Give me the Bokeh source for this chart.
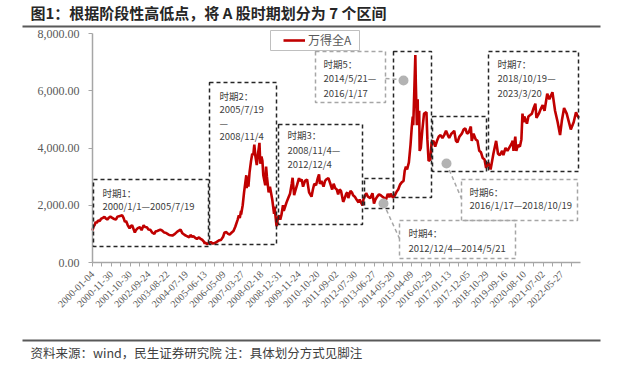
import math
import numpy as np
from bokeh.plotting import figure
from bokeh.models import (Range1d, FixedTicker, NumeralTickFormatter, BoxAnnotation,
                          Label, Arrow, Legend, LegendItem)
from bokeh.embed import file_html
from bokeh.resources import INLINE

title_text = "图1：根据阶段性高低点，将 A 股时期划分为 7 个区间"
source_text = "资料来源：wind，民生证券研究院 注：具体划分方式见脚注"
series_name = "万得全A"

# category-axis labels (one every 220 trading days)
tick_dates = ["2000-01-04", "2000-11-30", "2001-10-30", "2002-09-24", "2003-08-22",
              "2004-07-19", "2005-06-13", "2006-05-09", "2007-03-27", "2008-02-18",
              "2008-12-31", "2009-11-24", "2010-10-20", "2011-09-02", "2012-07-30",
              "2013-06-27", "2014-05-20", "2015-04-09", "2016-02-29", "2017-01-13",
              "2017-12-05", "2018-10-29", "2019-09-16", "2020-08-10", "2021-07-02",
              "2022-05-27"]
y_ticks = [0, 2000, 4000, 6000, 8000]

dates = [
 "2000-01-04","2000-01-20","2000-02-15","2000-03-01","2000-03-20","2000-04-10","2000-05-10","2000-06-01",
 "2000-07-05","2000-08-01","2000-08-25","2000-09-20","2000-10-15","2000-11-15","2000-12-10","2001-01-10",
 "2001-02-20","2001-03-20","2001-04-20","2001-06-13","2001-07-10","2001-07-30","2001-08-20","2001-09-20",
 "2001-10-22","2001-11-15","2001-12-05","2002-01-22","2002-02-10","2002-03-15","2002-04-20","2002-05-20",
 "2002-06-25","2002-07-20","2002-08-20","2002-09-20","2002-10-20","2002-11-25","2002-12-31","2003-01-20",
 "2003-02-20","2003-04-15","2003-05-20","2003-06-20","2003-07-20","2003-08-20","2003-09-20","2003-11-15",
 "2003-12-30","2004-02-10","2004-04-07","2004-05-10","2004-06-20","2004-07-19","2004-08-20","2004-09-10",
 "2004-09-28","2004-10-28","2004-11-20","2004-12-30","2005-01-20","2005-02-25","2005-03-20","2005-04-20",
 "2005-05-25","2005-06-06","2005-06-13","2005-07-19","2005-08-20","2005-09-20","2005-10-25","2005-12-01",
 "2006-01-10","2006-02-20","2006-03-20","2006-04-25","2006-05-20","2006-06-20","2006-07-20","2006-08-15",
 "2006-09-20","2006-10-20","2006-11-20","2006-12-31","2007-01-20","2007-02-05","2007-02-26","2007-02-28",
 "2007-03-27","2007-04-20","2007-05-29","2007-06-05","2007-06-20","2007-07-05","2007-07-25","2007-08-20",
 "2007-09-10","2007-09-28","2007-10-16","2007-11-05","2007-11-28","2007-12-20","2008-01-14","2008-01-28",
 "2008-02-18","2008-03-05","2008-03-20","2008-04-22","2008-05-06","2008-05-20","2008-06-18","2008-07-10",
 "2008-08-18","2008-09-18","2008-09-26","2008-10-28","2008-11-04","2008-11-20","2008-12-10","2008-12-31",
 "2009-01-20","2009-02-17","2009-03-03","2009-04-20","2009-05-20","2009-06-20","2009-07-20","2009-08-04",
 "2009-08-31","2009-09-20","2009-10-20","2009-11-24","2009-12-10","2010-01-10","2010-02-03","2010-03-10",
 "2010-04-15","2010-05-20","2010-07-02","2010-07-26","2010-08-20","2010-09-20","2010-10-20","2010-11-10",
 "2010-11-25","2010-12-20","2011-01-25","2011-02-20","2011-03-10","2011-04-18","2011-05-20","2011-06-20",
 "2011-07-15","2011-08-10","2011-09-05","2011-09-30","2011-10-25","2011-11-20","2011-12-28","2012-01-10",
 "2012-02-20","2012-03-10","2012-03-28","2012-05-05","2012-05-30","2012-06-20","2012-07-20","2012-08-20",
 "2012-09-25","2012-10-15","2012-11-20","2012-12-04","2012-12-20","2013-01-20","2013-02-06","2013-03-10",
 "2013-04-20","2013-05-29","2013-06-25","2013-07-20","2013-08-20","2013-09-20","2013-10-20","2013-11-20",
 "2013-12-20","2014-01-20","2014-02-20","2014-03-20","2014-04-10","2014-05-21","2014-06-20","2014-07-25",
 "2014-08-20","2014-09-20","2014-10-20","2014-11-20","2014-12-10","2014-12-31","2015-01-20","2015-02-20",
 "2015-03-20","2015-04-10","2015-04-28","2015-05-07","2015-05-28","2015-06-12","2015-06-20","2015-07-08",
 "2015-07-23","2015-07-27","2015-08-18","2015-08-26","2015-09-15","2015-10-10","2015-11-10","2015-12-22",
 "2016-01-07","2016-01-28","2016-02-29","2016-03-20","2016-04-20","2016-05-20","2016-06-20","2016-07-20",
 "2016-08-20","2016-09-20","2016-10-20","2016-11-20","2016-12-20","2017-01-13","2017-02-20","2017-03-20",
 "2017-04-10","2017-05-10","2017-06-05","2017-07-10","2017-08-20","2017-09-20","2017-10-20","2017-11-20",
 "2017-12-20","2018-01-24","2018-02-09","2018-03-12","2018-04-20","2018-05-20","2018-06-20","2018-07-20",
 "2018-08-20","2018-09-20","2018-10-18","2018-11-20","2018-12-20","2019-01-03","2019-02-20","2019-04-08",
 "2019-05-10","2019-06-10","2019-07-20","2019-08-10","2019-09-16","2019-10-20","2019-12-31","2020-01-20",
 "2020-02-03","2020-03-05","2020-03-23","2020-04-20","2020-05-25","2020-06-20","2020-07-09","2020-07-27",
 "2020-08-10","2020-09-25","2020-10-20","2020-11-20","2020-12-20","2021-01-20","2021-02-18","2021-03-09",
 "2021-04-20","2021-05-20","2021-06-25","2021-07-28","2021-09-13","2021-10-20","2021-12-13","2022-01-28",
 "2022-03-15","2022-04-26","2022-05-27","2022-07-05","2022-08-20","2022-10-31","2022-12-20","2023-01-30",
 "2023-02-20","2023-03-20"]

values = [
 1120,1250,1330,1420,1380,1470,1450,1520,
 1560,1600,1540,1500,1560,1600,1570,1530,
 1500,1600,1620,1650,1540,1420,1450,1300,
 1190,1280,1300,1050,1130,1200,1230,1130,
 1300,1240,1230,1150,1140,1040,1000,1080,
 1100,1150,1110,1050,1040,1000,960,940,
 1000,1080,1150,1020,960,930,900,880,
 960,900,920,850,820,880,830,800,
 720,650,700,640,700,710,660,680,
 730,780,790,900,1050,1060,1000,980,
 1050,1100,1250,1500,1650,1550,1800,1680,
 2000,2450,3050,2600,3000,2650,3150,3550,
 3800,3750,4120,3700,3400,3800,4180,3450,
 3700,3550,3050,2700,3350,3000,2450,2650,
 2200,1700,1950,1300,1270,1550,1650,1500,
 1650,2000,1800,2100,2250,2400,2750,2960,
 2350,2500,2700,2950,2850,2900,2650,2850,
 2900,2450,2300,2550,2750,2700,2950,3080,
 2750,2850,2650,2850,2900,2950,2750,2550,
 2750,2600,2550,2380,2550,2500,2120,2170,
 2400,2450,2250,2500,2450,2350,2300,2200,
 2100,2200,2050,1990,2200,2350,2420,2300,
 2250,2420,2060,2200,2300,2380,2350,2300,
 2250,2200,2400,2280,2400,2270,2330,2480,
 2550,2720,2800,2850,3200,3350,3250,3500,
 4100,4700,5100,4800,6200,7250,6300,4800,
 5700,5000,5300,3900,4000,4600,5200,5250,
 4300,3550,3600,4200,4250,4050,4250,4400,
 4450,4350,4450,4600,4450,4350,4500,4550,
 4600,4250,4200,4400,4500,4650,4680,4500,
 4550,4750,4250,4500,4300,4250,3900,3850,
 3650,3600,3300,3500,3350,3250,3800,4250,
 3800,3750,3900,3750,4000,3900,4150,4250,
 3900,4400,3900,4100,4050,4300,5200,4900,
 5100,4850,5100,5150,5200,5400,5550,5050,
 5200,5350,5500,5300,5900,5700,5950,5300,
 4900,4450,4950,5400,5200,4650,4900,5250,
 5150,5050]

TICK_STEP = 220
tick_ord = np.array(tick_dates, dtype="datetime64[D]").astype(float)
tick_pos = np.arange(len(tick_dates)) * TICK_STEP

def date_to_idx(ds):
    o = np.array(ds, dtype="datetime64[D]").astype(float)
    idx = np.interp(o, tick_ord, tick_pos)
    slope = TICK_STEP / (tick_ord[-1] - tick_ord[-2])
    return np.where(o > tick_ord[-1], tick_pos[-1] + (o - tick_ord[-1]) * slope, idx)

x = date_to_idx(dates)
XR_END = float(x[-1]) + 20
Y_MAX = y_ticks[-1]

W, H = 624, 364
# plot-area geometry on the page (px): the frame covers the whole canvas, the axes
# are pinned at value 0 so that every annotation can be drawn anywhere on it.
FL, FR, FT, FB = 92, 580, 33, 262
def fx(px):
    return (px - FL) / (FR - FL) * XR_END
def fy(py):
    return (FB - py) / (FB - FT) * Y_MAX

p = figure(width=W, height=H, output_backend="svg", toolbar_location=None,
           x_range=Range1d(fx(0), fx(W)), y_range=Range1d(fy(H), fy(0)),
           min_border=0, min_border_left=0, min_border_right=0,
           min_border_top=0, min_border_bottom=0)
p.outline_line_color = None
p.xgrid.visible = False
p.ygrid.visible = False
p.background_fill_color = "white"
p.border_fill_color = "white"

AX = "#A6A6A6"
LBL = "#595959"
xa = p.xaxis[0]
xa.fixed_location = 0
xa.bounds = (0, XR_END)
xa.ticker = FixedTicker(ticks=list(range(0, int(XR_END) + 1, TICK_STEP // 2)), minor_ticks=[])
xa.major_label_overrides = {t: (tick_dates[t // TICK_STEP] if t % TICK_STEP == 0 and t // TICK_STEP < len(tick_dates) else "")
                            for t in range(0, int(XR_END) + 1, TICK_STEP // 2)}
xa.major_label_orientation = math.pi / 4
xa.major_label_text_font = "Liberation Serif"
xa.major_label_text_font_size = "10px"
xa.major_label_text_color = LBL
xa.axis_line_color = AX
xa.axis_line_width = 1.5
xa.major_tick_line_color = AX
xa.major_tick_in = 0
xa.major_tick_out = 4
xa.major_label_standoff = 6

ya = p.yaxis[0]
ya.fixed_location = 0
ya.bounds = (0, Y_MAX)
ya.ticker = FixedTicker(ticks=y_ticks, minor_ticks=[])
ya.formatter = NumeralTickFormatter(format="0,0.00")
ya.major_label_text_font = "Liberation Serif"
ya.major_label_text_font_size = "12px"
ya.major_label_text_color = LBL
ya.axis_line_color = AX
ya.axis_line_width = 1.5
ya.major_tick_line_color = AX
ya.major_tick_in = 0
ya.major_tick_out = 4
ya.major_label_standoff = 9

line = p.line(x, values, line_color="#C00000", line_width=2.6)

CJK = "Noto Sans CJK SC"
TXT = "#404040"

def pbox(l, r, t, b, **kw):
    return BoxAnnotation(left=fx(l), right=fx(r), top=fy(t), bottom=fy(b), **kw)

# black dashed period boxes (page px: left, right, top, bottom)
period_boxes = [(93, 208, 179, 246), (209, 276, 82, 244), (278, 362, 124, 224),
                (364, 393, 178, 208), (393, 431, 51, 197), (432, 486, 116, 171),
                (488, 578, 51, 171)]
for l, r, t, b in period_boxes:
    p.add_layout(pbox(l, r, t, b, fill_alpha=0, line_color="#262626", line_alpha=1,
                      line_width=1.5, line_dash="4 3"))

# gray dashed callout boxes
GR = "#A6A6A6"
callout_boxes = [(315, 385, 51, 102), (399, 515, 220, 258), (461, 577, 179, 220)]
for l, r, t, b in callout_boxes:
    p.add_layout(pbox(l, r, t, b, fill_alpha=0, line_color=GR, line_alpha=1,
                      line_width=1.5, line_dash="4 3"))
leaders = [((385, 78), (399, 79)), ((383, 203), (399, 238)), ((446, 163), (461, 198))]
for (x0, y0), (x1, y1) in leaders:
    p.add_layout(Arrow(end=None, x_start=fx(x0), y_start=fy(y0), x_end=fx(x1), y_end=fy(y1),
                       line_color=GR, line_width=1.5, line_dash="4 3"))
for cx, cy in [(403, 80), (383, 203), (446, 163)]:
    p.add_layout(pbox(cx - 5, cx + 5, cy - 5, cy + 5, border_radius=5,
                      fill_color="#B3B3B3", fill_alpha=1, line_alpha=0))

box_texts = [
    ("时期1：", 102, 192), ("2000/1/1—2005/7/19", 102, 205),
    ("时期2：", 219, 95), ("2005/7/19", 219, 108), ("—", 219, 122), ("2008/11/4", 219, 135),
    ("时期3：", 287, 134), ("2008/11/4—", 287, 149), ("2012/12/4", 287, 163),
    ("时期5：", 323, 63), ("2014/5/21—", 323, 77), ("2016/1/17", 323, 92),
    ("时期7：", 497, 63), ("2018/10/19—", 497, 77), ("2023/3/20", 497, 92),
    ("时期6：", 469, 191), ("2016/1/17—2018/10/19", 469, 204),
    ("时期4：", 408, 232), ("2012/12/4—2014/5/21", 408, 247),
]
for t, px, py in box_texts:
    p.add_layout(Label(x=fx(px), y=fy(py), text=t, text_font=CJK, text_font_size="9.5px",
                       text_color=TXT, text_align="left", text_baseline="middle"))

# legend
p.add_layout(pbox(270, 359, 30, 50, fill_color="white", fill_alpha=1,
                  line_color="#BFBFBF", line_alpha=1, line_width=1))
legend = Legend(items=[LegendItem(label=series_name, renderers=[line])],
                location=(281, H - 50), padding=2, margin=0, spacing=0,
                glyph_width=22, glyph_height=16, label_height=16, label_standoff=3,
                label_text_font=CJK, label_text_font_size="12px", label_text_color=LBL,
                border_line_alpha=0, background_fill_alpha=0)
p.add_layout(legend)

# title, rules, source
p.add_layout(Label(x=fx(30), y=fy(12), text=title_text, text_font=CJK, text_font_size="15px",
                   text_font_style="bold", text_color="#262626", text_align="left",
                   text_baseline="middle"))
p.add_layout(pbox(22, 600, 25, 27, fill_color="#595959", fill_alpha=1, line_alpha=0))
p.add_layout(pbox(22, 600, 339, 341, fill_color="#595959", fill_alpha=1, line_alpha=0))
p.add_layout(Label(x=fx(30), y=fy(352), text=source_text, text_font=CJK, text_font_size="12.5px",
                   text_color=TXT, text_align="left", text_baseline="middle"))

open("out.html", "w").write(file_html(p, INLINE))
